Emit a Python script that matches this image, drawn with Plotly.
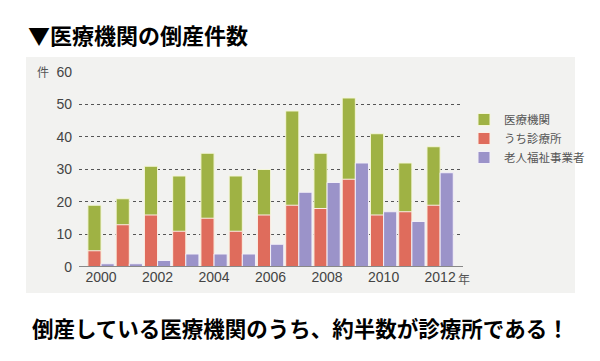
import plotly.graph_objects as go

years = [2000, 2001, 2002, 2003, 2004, 2005, 2006, 2007, 2008, 2009, 2010, 2011, 2012]
medical = [19, 21, 31, 28, 35, 28, 30, 48, 35, 52, 41, 32, 37]
clinics = [5, 13, 16, 11, 15, 11, 16, 19, 18, 27, 16, 17, 19]
elderly = [1, 1, 2, 4, 4, 4, 7, 23, 26, 32, 17, 14, 29]
tick_years = [2000, 2002, 2004, 2006, 2008, 2010, 2012]
y_ticks = [0, 10, 20, 30, 40, 50, 60]

FONT = "Noto Sans CJK JP"
NUMFONT = "Liberation Sans"

fig = go.Figure()
fig.add_bar(x=years, y=medical, name="医療機関", offsetgroup="a",
            marker=dict(color="#9fb244", line=dict(color="#f4f6d8", width=1)))
fig.add_bar(x=years, y=clinics, name="うち診療所", offsetgroup="a",
            marker=dict(color="#df6c5c", line=dict(color="#fbeee6", width=1)))
fig.add_bar(x=years, y=elderly, name="老人福祉事業者", offsetgroup="b",
            marker=dict(color="#9b93c9", line=dict(color="#f3f0f8", width=1)))

L, R, T, B = 79, 463, 71, 267
W, H = 600, 361
pw, ph = R - L, B - T

def px(x):
    return (x - L) / pw

def py(y):
    return (B - y) / ph

fig.update_layout(
    width=W, height=H,
    margin=dict(l=L, r=W - R, t=T, b=H - B, pad=0, autoexpand=False),
    paper_bgcolor="white",
    plot_bgcolor="#f2f2f0",
    barmode="group",
    bargap=0.07,
    bargroupgap=0.0,
    font=dict(family=FONT, color="#555"),
    showlegend=True,
    legend=dict(x=px(464), y=py(105), xanchor="left", yanchor="top",
                font=dict(size=11.5, color="#555", family=FONT),
                bgcolor="rgba(0,0,0,0)", tracegroupgap=0, itemwidth=30,
                traceorder="normal"),
    xaxis=dict(range=[1999.22, 2012.81], tickvals=tick_years,
               ticktext=[str(t) for t in tick_years], showgrid=False,
               zeroline=False, showline=False, ticks="", automargin=False,
               tickfont=dict(size=14, color="#444", family=NUMFONT)),
    yaxis=dict(range=[0, 60.3], tickvals=y_ticks, showgrid=True,
               gridcolor="#555", griddash="dot", gridwidth=1,
               zeroline=False, showline=False, ticks="", automargin=False,
               ticklabelstandoff=6,
               tickfont=dict(size=14, color="#444", family=NUMFONT)),
    shapes=[
        dict(type="rect", xref="paper", yref="paper",
             x0=px(26), x1=px(575), y0=py(293), y1=py(57),
             fillcolor="#f2f2f0", line=dict(width=0), layer="below"),
        dict(type="line", xref="paper", yref="y", x0=0, x1=1, y0=0, y1=0,
             line=dict(color="#888", width=2), layer="above"),
    ],
    annotations=[
        dict(text="<b>▼医療機関の倒産件数</b>", xref="paper", yref="paper",
             x=px(26), y=py(34), xanchor="left", yanchor="middle",
             showarrow=False, font=dict(size=22, color="black", family=FONT)),
        dict(text="<b>倒産している医療機関のうち、約半数が診療所である！</b>",
             xref="paper", yref="paper", x=px(300), y=py(327),
             xanchor="center", yanchor="middle", showarrow=False,
             font=dict(size=21.5, color="black", family=FONT)),
        dict(text="件", xref="paper", yref="paper", x=px(43), y=py(71),
             xanchor="center", yanchor="middle", showarrow=False,
             font=dict(size=12, color="#555", family=FONT)),
        dict(text="年", xref="paper", yref="paper", x=px(464), y=py(278),
             xanchor="center", yanchor="middle", showarrow=False,
             font=dict(size=12, color="#555", family=FONT)),
    ],
)

fig.write_html(
    "out.html",
    config={"displayModeBar": False},
    post_script="document.body.style.margin='0px';document.body.style.padding='0px';",
)
